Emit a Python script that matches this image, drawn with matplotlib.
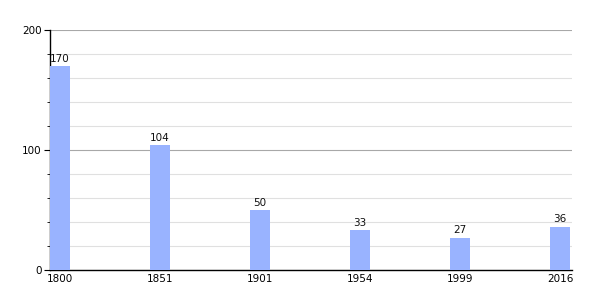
import matplotlib.pyplot as plt
from matplotlib.ticker import MultipleLocator

annees = ["1800", "1851", "1901", "1954", "1999", "2016"]
population = [170, 104, 50, 33, 27, 36]

fig = plt.figure(figsize=(6, 3), dpi=100)
ax = fig.add_axes([50/600, 30/300, 522/600, 240/300])

pos = list(range(len(annees)))
ax.bar(pos, population, width=0.2, align="edge", color="#99b3ff", zorder=3)
for x, v in zip(pos, population):
    ax.text(x + 0.1, v + 2, str(v), ha="center", va="bottom", fontsize=7.5, color="#111111")

ax.set_xlim(0, 5.22)
ax.set_ylim(0, 200)
ax.set_xticks([p + 0.1 for p in pos])
ax.set_xticklabels(annees, fontsize=7.5)
ax.tick_params(axis="x", length=0, pad=3)
ax.yaxis.set_major_locator(MultipleLocator(100))
ax.yaxis.set_minor_locator(MultipleLocator(20))
ax.tick_params(axis="y", which="major", length=4, labelsize=7.5, pad=2)
ax.tick_params(axis="y", which="minor", length=2.5)
ax.grid(axis="y", which="major", color="#a8a8a8", linewidth=0.8, zorder=1)
ax.grid(axis="y", which="minor", color="#e0e0e0", linewidth=0.8, zorder=1)
ax.spines["right"].set_visible(False)
ax.spines["top"].set_visible(False)
ax.spines["left"].set_linewidth(1)
ax.spines["bottom"].set_linewidth(1)

fig.savefig("out.png")
